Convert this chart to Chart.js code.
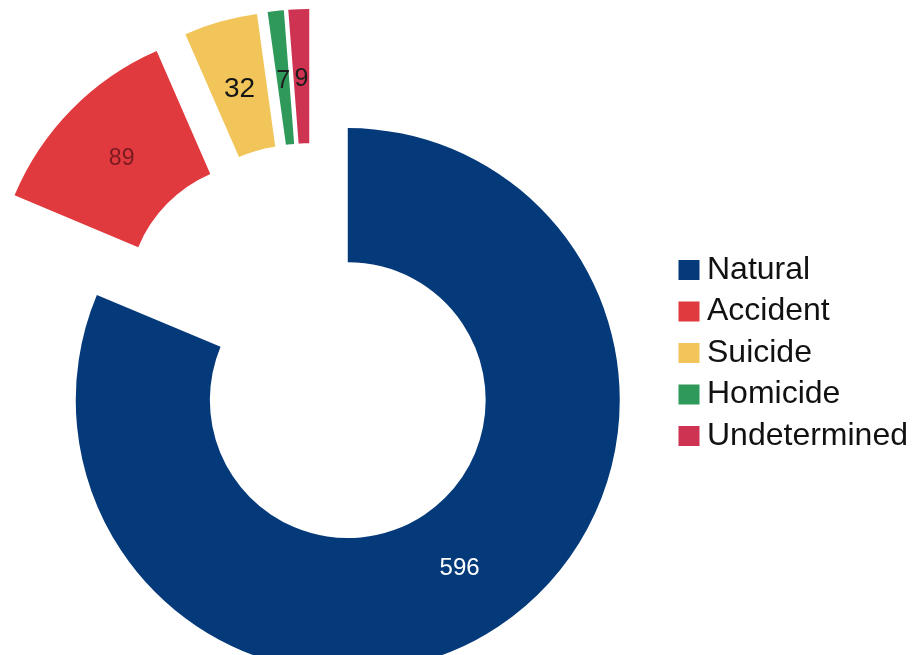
<!DOCTYPE html>
<html>
<head>
<meta charset="utf-8">
<script src="https://cdn.jsdelivr.net/npm/chart.js@4/dist/chart.umd.min.js"></script>
<style>
  html, body { margin: 0; padding: 0; background: #ffffff; overflow: hidden; width: 913px; height: 655px; }
  #wrap { position: relative; width: 913px; height: 655px; overflow: hidden; }
  #c { position: absolute; left: -54px; top: 0; }
</style>
</head>
<body>
<div id="wrap"><canvas id="c" width="972" height="692"></canvas></div>
<script>
// ---- data ----
const categories = ['Natural', 'Accident', 'Suicide', 'Homicide', 'Undetermined'];
const deaths = [596, 89, 32, 7, 9];

// ---- styles ----
const sliceColors = ['#053a7a', '#e13a3e', '#f2c55a', '#2f995a', '#cf3352'];
const labelColors = ['#ffffff', '#7a1b22', '#151515', '#1c1c1c', '#1c1c1c'];
const labelSizes = [24, 23, 28, 25, 25];
const EXPLODE = 65;        // every slice pulled out from the centre (px)
const LABEL_R = 0.985;     // label radius relative to mid-ring radius
const LEGEND_SHIFT = 7;    // legend moved down (px)

const explodePlugin = {
  id: 'explode',
  beforeDatasetsDraw(chart) {
    const meta = chart.getDatasetMeta(0);
    meta.data.forEach(arc => {
      if (arc.__exploded) return;
      const orig = arc.draw;
      arc.draw = function (ctx, area) {
        const mid = (this.startAngle + this.endAngle) / 2;
        ctx.save();
        ctx.translate(Math.cos(mid) * EXPLODE, Math.sin(mid) * EXPLODE);
        orig.call(this, ctx, area);
        ctx.restore();
      };
      arc.__exploded = true;
    });
  }
};

const valueLabelPlugin = {
  id: 'valueLabels',
  afterDatasetsDraw(chart) {
    const ctx = chart.ctx;
    const meta = chart.getDatasetMeta(0);
    const data = chart.data.datasets[0].data;
    meta.data.forEach((arc, i) => {
      const mid = (arc.startAngle + arc.endAngle) / 2;
      const r = (arc.innerRadius + arc.outerRadius) / 2 * LABEL_R + EXPLODE;
      const px = arc.x + Math.cos(mid) * r;
      const py = arc.y + Math.sin(mid) * r;
      ctx.save();
      ctx.font = labelSizes[i] + 'px "Liberation Sans", Arial, sans-serif';
      ctx.fillStyle = labelColors[i];
      ctx.textAlign = 'center';
      ctx.textBaseline = 'middle';
      ctx.fillText(String(data[i]), px, py);
      ctx.restore();
    });
  }
};

const legendShiftPlugin = {
  id: 'legendShift',
  afterLayout(chart) {
    if (chart.legend) {
      chart.legend.top += LEGEND_SHIFT;
      chart.legend.bottom += LEGEND_SHIFT;
    }
  }
};

new Chart(document.getElementById('c'), {
  type: 'doughnut',
  data: {
    labels: categories,
    datasets: [{
      data: deaths,
      backgroundColor: sliceColors,
      borderWidth: 0,
      hoverOffset: 0,
      offset: 0,
      clip: false
    }]
  },
  options: {
    responsive: false,
    maintainAspectRatio: false,
    animation: false,
    radius: 272,
    cutout: '50.7%',
    layout: { padding: 0 },
    plugins: {
      tooltip: { enabled: false },
      legend: {
        display: true,
        position: 'right',
        align: 'center',
        labels: {
          color: '#111111',
          font: { family: '"Liberation Sans", Arial, sans-serif', size: 32 },
          boxWidth: 4,
          boxHeight: 3,
          padding: 9.5,
          generateLabels(chart) {
            const items = Chart.overrides.doughnut.plugins.legend.labels.generateLabels(chart);
            items.forEach(it => {
              it.strokeStyle = it.fillStyle;
              it.lineWidth = 17;
              it.lineJoin = 'miter';
            });
            return items;
          }
        }
      }
    }
  },
  plugins: [explodePlugin, valueLabelPlugin, legendShiftPlugin]
});
</script>
</body>
</html>
